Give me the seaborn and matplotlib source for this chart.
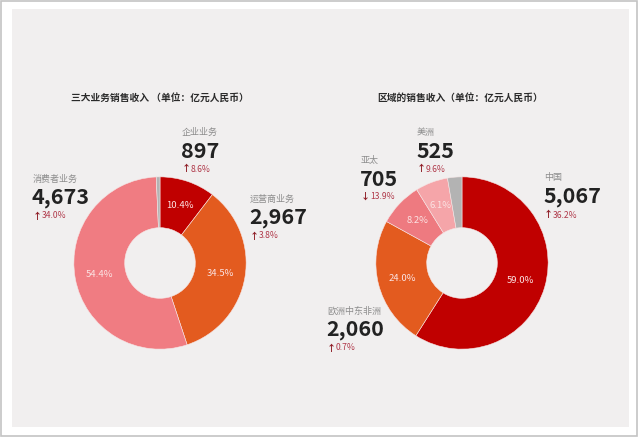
import numpy as np
import matplotlib
matplotlib.use("Agg")
import matplotlib.pyplot as plt
import seaborn as sns
from matplotlib.patches import Rectangle

# left donut: business groups
biz_names = ["企业业务", "运营商业务", "消费者业务", "其他"]
biz_share = [10.4, 34.5, 54.4, 0.7]
biz_revenue = [897, 2967, 4673]
biz_growth = [8.6, 3.8, 34.0]
biz_colors = ["#c00000", "#e35b1f", "#f07c82", "#b3b3b3"]

# right donut: regions
reg_names = ["中国", "欧洲中东非洲", "亚太", "美洲", "其他"]
reg_share = [59.0, 24.0, 8.2, 6.1, 2.7]
reg_revenue = [5067, 2060, 705, 525]
reg_growth = [36.2, 0.7, -13.9, 9.6]
reg_colors = ["#c00000", "#e35b1f", "#ee7a80", "#f5a5a9", "#b3b3b3"]

titles = ["三大业务销售收入 （单位：亿元人民币）", "区域的销售收入（单位：亿元人民币）"]

sns.set_theme(style="white")
plt.rcParams["font.family"] = ["Noto Sans CJK SC", "DejaVu Sans"]

W, H = 640, 438
BG = "#f1efef"
fig = plt.figure(figsize=(W / 100, H / 100), dpi=100)
fig.patch.set_facecolor("white")

def fx(px):
    return px / W

def fy(py):
    return 1 - py / H

# outer frame and panel
fig.patches.append(Rectangle((fx(1), fy(436)), fx(636), 435 / H, transform=fig.transFigure,
                             facecolor="none", edgecolor="#c4c4c4", lw=1.2, zorder=-2))
fig.patches.append(Rectangle((fx(12), fy(427)), fx(617), 418 / H, transform=fig.transFigure,
                             facecolor=BG, edgecolor="none", zorder=-1))


def donut(cx, cy, r, shares, colors):
    ax = fig.add_axes([fx(cx - r), fy(cy + r), fx(2 * r), 2 * r / H])
    ax.set_zorder(2)
    wedges, _ = ax.pie(shares, colors=colors, startangle=90, counterclock=False, radius=1,
                       wedgeprops=dict(width=0.59, edgecolor="#f6e6e6", linewidth=0.4))
    for w, s in zip(wedges[:-1], shares[:-1]):
        ang = np.deg2rad((w.theta1 + w.theta2) / 2)
        ax.text(0.71 * np.cos(ang), 0.71 * np.sin(ang), f"{s:.1f}%", ha="center", va="center",
                color="#fbe3e3", fontsize=6.8)
    ax.set_xlim(-1.01, 1.01)
    ax.set_ylim(-1.01, 1.01)
    ax.axis("off")


donut(160, 263, 87, biz_share, biz_colors)
donut(462, 263, 87, reg_share, reg_colors)

fig.text(fx(160), fy(98), titles[0], ha="center", va="center", fontsize=7, fontweight="bold", color="#2a2a2a")
fig.text(fx(460), fy(98), titles[1], ha="center", va="center", fontsize=7, fontweight="bold", color="#2a2a2a")


def callout(x, y, name, revenue, growth):
    fig.text(fx(x), fy(y), name, ha="left", va="center", fontsize=6.5, color="#8c8c8c")
    fig.text(fx(x - 1), fy(y + 19), f"{revenue:,}", ha="left", va="center", fontsize=15.5,
             fontweight="bold", color="#222222")
    arrow = "↑" if growth >= 0 else "↓"
    fig.text(fx(x), fy(y + 37), arrow, ha="left", va="center", fontsize=6.5,
             fontweight="bold", color="#8e1b24")
    fig.text(fx(x + 9), fy(y + 37), f"{abs(growth):.1f}%", ha="left", va="center",
             fontsize=6.2, color="#b0394a")


biz_pos = [(182, 132), (250, 199), (33, 179)]
for (x, y), n, v, g in zip(biz_pos, biz_names, biz_revenue, biz_growth):
    callout(x, y, n, v, g)

reg_pos = [(544, 178), (327, 311), (361, 160), (417, 132)]
for (x, y), n, v, g in zip(reg_pos, reg_names, reg_revenue, reg_growth):
    callout(x, y, n, v, g)

fig.savefig("out.png", dpi=100, facecolor=fig.get_facecolor())
